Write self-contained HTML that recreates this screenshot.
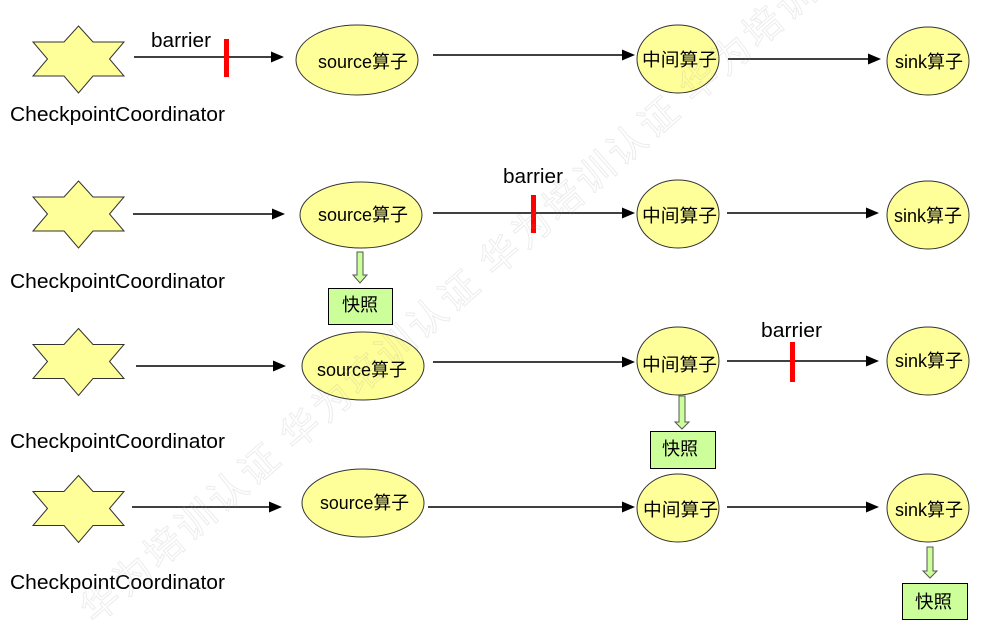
<!DOCTYPE html>
<html>
<head>
<meta charset="utf-8">
<style>
  html, body { margin:0; padding:0; background:#fff; }
  body { width:989px; height:627px; overflow:hidden; }
  svg { display:block; }
  .lat { font-family: "Liberation Sans", "Noto Sans CJK SC", sans-serif; fill:#000; }
  .node { font-family: "Liberation Sans", "Noto Sans CJK SC", sans-serif; font-size:18px; fill:#000; }
  .wm { font-family: "Noto Sans CJK SC", "WenQuanYi Zen Hei", sans-serif; font-size:38px; fill:none; stroke:rgba(150,150,150,0.18); stroke-width:1; letter-spacing:4px; }
</style>
</head>
<body>
<svg width="989" height="627" viewBox="0 0 989 627" xmlns="http://www.w3.org/2000/svg">
  <defs>
    <polygon id="star" points="0,-33 14.5,-17 45.5,-17 31,0 45.5,17 14.5,17 0,34 -14.5,17 -45.5,17 -31,0 -45.5,-17 -14.5,-17" fill="#ffff99" stroke="#333" stroke-width="1"/>
  </defs>

  <!-- Stars -->
  <use href="#star" x="78.5" y="59"/>
  <use href="#star" x="78.5" y="214"/>
  <use href="#star" x="78.5" y="361.5"/>
  <use href="#star" x="78.5" y="508.5"/>

  <!-- CheckpointCoordinator labels -->
  <text class="lat" x="10" y="121" font-size="20" textLength="215" lengthAdjust="spacingAndGlyphs">CheckpointCoordinator</text>
  <text class="lat" x="10" y="288" font-size="20" textLength="215" lengthAdjust="spacingAndGlyphs">CheckpointCoordinator</text>
  <text class="lat" x="10" y="448" font-size="20" textLength="215" lengthAdjust="spacingAndGlyphs">CheckpointCoordinator</text>
  <text class="lat" x="10" y="589" font-size="20" textLength="215" lengthAdjust="spacingAndGlyphs">CheckpointCoordinator</text>

  <!-- Arrows -->
  <g stroke="#000" stroke-width="1.6">
    <line x1="134" y1="57" x2="272" y2="57"/>
    <line x1="433" y1="55" x2="623" y2="55"/>
    <line x1="728" y1="59" x2="869" y2="59"/>

    <line x1="133" y1="214" x2="273" y2="214"/>
    <line x1="433" y1="213" x2="623" y2="213"/>
    <line x1="727" y1="213" x2="867" y2="213"/>

    <line x1="136" y1="366" x2="274" y2="366"/>
    <line x1="433" y1="362" x2="623" y2="362"/>
    <line x1="727" y1="361" x2="867" y2="361"/>

    <line x1="132" y1="507" x2="270" y2="507"/>
    <line x1="428" y1="507" x2="623" y2="507"/>
    <line x1="727" y1="507" x2="867" y2="507"/>
  </g>
  <g fill="#000">
    <polygon points="284,57 271,51.5 271,62.5"/>
    <polygon points="635,55 622,49.5 622,60.5"/>
    <polygon points="881,59 868,53.5 868,64.5"/>

    <polygon points="285,214 272,208.5 272,219.5"/>
    <polygon points="635,213 622,207.5 622,218.5"/>
    <polygon points="879,213 866,207.5 866,218.5"/>

    <polygon points="286,366 273,360.5 273,371.5"/>
    <polygon points="635,362 622,356.5 622,367.5"/>
    <polygon points="879,361 866,355.5 866,366.5"/>

    <polygon points="282,507 269,501.5 269,512.5"/>
    <polygon points="635,507 622,501.5 622,512.5"/>
    <polygon points="879,507 866,501.5 866,512.5"/>
  </g>

  <!-- Barriers -->
  <rect x="224" y="39" width="5" height="38" fill="#ff0000"/>
  <rect x="531" y="195" width="5" height="38" fill="#ff0000"/>
  <rect x="790" y="342" width="5" height="40" fill="#ff0000"/>
  <text class="lat" x="151" y="47" font-size="20" textLength="60" lengthAdjust="spacingAndGlyphs">barrier</text>
  <text class="lat" x="503" y="183" font-size="20" textLength="60" lengthAdjust="spacingAndGlyphs">barrier</text>
  <text class="lat" x="761" y="337" font-size="20" textLength="61" lengthAdjust="spacingAndGlyphs">barrier</text>

  <!-- Ellipses -->
  <g fill="#ffff99" stroke="#333" stroke-width="1">
    <ellipse cx="357" cy="60" rx="61" ry="35"/>
    <ellipse cx="678" cy="59" rx="41" ry="34"/>
    <ellipse cx="928" cy="61" rx="41" ry="34"/>

    <ellipse cx="361" cy="215" rx="61" ry="33"/>
    <ellipse cx="678" cy="214" rx="41" ry="34"/>
    <ellipse cx="928" cy="215" rx="41" ry="34"/>

    <ellipse cx="363" cy="366" rx="61" ry="34"/>
    <ellipse cx="678" cy="361" rx="41" ry="34"/>
    <ellipse cx="928" cy="361" rx="41" ry="34"/>

    <ellipse cx="363" cy="503" rx="61" ry="34"/>
    <ellipse cx="678" cy="508" rx="41" ry="34"/>
    <ellipse cx="928" cy="508" rx="41" ry="34"/>
  </g>

  <!-- Node labels -->
  <text class="node" x="318" y="68" textLength="90" lengthAdjust="spacingAndGlyphs">source算子</text>
  <text class="node" x="642" y="66" textLength="75" lengthAdjust="spacingAndGlyphs">中间算子</text>
  <text class="node" x="895" y="68" textLength="68" lengthAdjust="spacingAndGlyphs">sink算子</text>

  <text class="node" x="318" y="221" textLength="90" lengthAdjust="spacingAndGlyphs">source算子</text>
  <text class="node" x="642" y="222" textLength="75" lengthAdjust="spacingAndGlyphs">中间算子</text>
  <text class="node" x="894" y="222" textLength="68" lengthAdjust="spacingAndGlyphs">sink算子</text>

  <text class="node" x="317" y="376" textLength="90" lengthAdjust="spacingAndGlyphs">source算子</text>
  <text class="node" x="642" y="371" textLength="75" lengthAdjust="spacingAndGlyphs">中间算子</text>
  <text class="node" x="895" y="367" textLength="68" lengthAdjust="spacingAndGlyphs">sink算子</text>

  <text class="node" x="320" y="509" textLength="89" lengthAdjust="spacingAndGlyphs">source算子</text>
  <text class="node" x="643" y="516" textLength="75" lengthAdjust="spacingAndGlyphs">中间算子</text>
  <text class="node" x="895" y="516" textLength="68" lengthAdjust="spacingAndGlyphs">sink算子</text>

  <!-- Snapshot arrows (hollow green) -->
  <g fill="#ccff99" stroke="#555" stroke-width="1">
    <polygon points="357,252 363,252 363,275 367,275 360,283 353,275 357,275"/>
    <polygon points="679,396 685,396 685,422 689,422 682,429 675,422 679,422"/>
    <polygon points="927,547 933,547 933,571 937,571 930,578 923,571 927,571"/>
  </g>

  <!-- Snapshot boxes -->
  <g fill="#ccff99" stroke="#000" stroke-width="1">
    <rect x="328.5" y="288.5" width="64" height="36"/>
    <rect x="650.5" y="431.5" width="65" height="37"/>
    <rect x="902.5" y="583.5" width="65" height="36"/>
  </g>
  <text class="node" x="342" y="311" textLength="36" lengthAdjust="spacingAndGlyphs">快照</text>
  <text class="node" x="662" y="455" textLength="36" lengthAdjust="spacingAndGlyphs">快照</text>
  <text class="node" x="915" y="608" textLength="37" lengthAdjust="spacingAndGlyphs">快照</text>

  <!-- Watermark -->
  <text class="wm" x="95" y="625" transform="rotate(-41 95 625)">华为培训认证 华为培训认证 华为培训认证 华为培训认证 华为培训认证</text>
</svg>
</body>
</html>
